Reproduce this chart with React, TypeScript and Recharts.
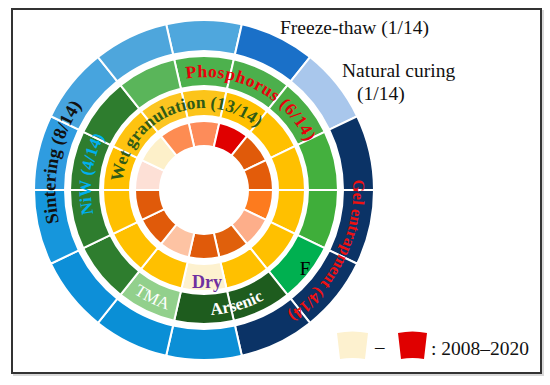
import { PieChart, Pie, Cell } from 'recharts'

// 14 studies, one slice each, shared by all four rings
const studies = ['S1', 'S2', 'S3', 'S4', 'S5', 'S6', 'S7', 'S8', 'S9', 'S10', 'S11', 'S12', 'S13', 'S14']
const share = [1, 1, 1, 1, 1, 1, 1, 1, 1, 1, 1, 1, 1, 1]

// outer ring: curing method
const curing = [
  'Sintering', 'Freeze-thaw', 'Natural curing', 'Gel entrapment', 'Gel entrapment', 'Gel entrapment', 'Gel entrapment',
  'Sintering', 'Sintering', 'Sintering', 'Sintering', 'Sintering', 'Sintering', 'Sintering',
]
const curingColors = [
  '#4fa7dd', '#1a70c8', '#a9c7ec', '#0b3366', '#0b3366', '#0b3366', '#0b3366',
  '#0c8fd6', '#0a8fd6', '#0d8fd8', '#1696dc', '#2f9ce0', '#47a4de', '#4ea6dc',
]

// second ring: target pollutant
const pollutant = [
  'Phosphorus', 'Phosphorus', 'Phosphorus', 'Phosphorus', 'Phosphorus', 'F', 'Arsenic',
  'Arsenic', 'TMA', 'NiW', 'NiW', 'NiW', 'NiW', 'Phosphorus',
]
const pollutantColors = [
  '#4db14d', '#4caf4c', '#4aae46', '#44b03e', '#3fae3a', '#00b050', '#1e5c1e',
  '#1e5c1e', '#92d08c', '#2e7d2e', '#2e7d2e', '#2e7d2e', '#2e7d2e', '#5ab55a',
]

// third ring: granulation method
const granulation = [
  'Wet', 'Wet', 'Wet', 'Wet', 'Wet', 'Wet', 'Wet', 'Dry', 'Wet', 'Wet', 'Wet', 'Wet', 'Wet', 'Wet',
]
const granulationColors = [
  '#fcc419', '#ffc000', '#ffc000', '#ffc000', '#ffc000', '#ffc000', '#ffc000',
  '#fdf1cf', '#ffc000', '#ffc000', '#ffc000', '#ffc000', '#fec310', '#fcc521',
]

// inner ring: publication year (2008-2020 colour scale)
const yearColors = [
  '#fd8c5a', '#e00000', '#e05a0a', '#e35c0a', '#fd7b1e', '#fdae8a', '#e0600c',
  '#e05a0a', '#fdc3a3', '#e05a0a', '#e05a0a', '#fde0d6', '#fdf0c9', '#fd8c52',
]

const W = 550
const H = 385
const CX = 204
const CY = 190
const START = 90 + 180 / 14

const serif = '"Liberation Serif", "Times New Roman", serif'

const rings = [
  { key: 'year', inner: 44, outer: 69, colors: yearColors, labels: studies },
  { key: 'gran', inner: 74, outer: 101, colors: granulationColors, labels: granulation },
  { key: 'poll', inner: 104, outer: 134, colors: pollutantColors, labels: pollutant },
  { key: 'cure', inner: 139, outer: 170, colors: curingColors, labels: curing },
]

function pt(deg: number, r: number) {
  const a = (deg * Math.PI) / 180
  return [CX + r * Math.sin(a), CY - r * Math.cos(a)]
}

// arc around the centre, angle measured clockwise from 12 o'clock
function arc(r: number, center: number, span: number, ccw: boolean) {
  const a1 = center - span / 2
  const a2 = center + span / 2
  const large = span > 180 ? 1 : 0
  if (!ccw) {
    const [x1, y1] = pt(a1, r)
    const [x2, y2] = pt(a2, r)
    return `M${x1},${y1} A${r},${r} 0 ${large} 1 ${x2},${y2}`
  }
  const [x1, y1] = pt(a2, r)
  const [x2, y2] = pt(a1, r)
  return `M${x1},${y1} A${r},${r} 0 ${large} 0 ${x2},${y2}`
}

interface CurvedProps {
  id: string
  text: string
  r: number
  center: number
  size: number
  color: string
  ccw?: boolean
  bold?: boolean
  spacing?: number
}

function Curved({ id, text, r, center, size, color, ccw = false, bold = true, spacing = 0 }: CurvedProps) {
  const base = ccw ? r + size * 0.35 : r - size * 0.35
  return (
    <g>
      <path id={id} d={arc(base, center, 160, ccw)} fill="none" />
      <text fontFamily={serif} fontSize={size} fontWeight={bold ? 'bold' : 'normal'} fill={color} letterSpacing={spacing}>
        <textPath href={`#${id}`} startOffset="50%" textAnchor="middle">
          {text}
        </textPath>
      </text>
    </g>
  )
}

function legendSector(x: number, y: number, w: number, h: number) {
  // small curved swatch like a ring cell
  return `M${x},${y} Q${x + w / 2},${y - 3} ${x + w},${y} L${x + w - 3},${y + h} Q${x + w / 2},${y + h - 2} ${x + 3},${y + h} Z`
}

function Labels() {
  return (
    <svg width={W} height={H} style={{ position: 'absolute', left: 0, top: 0 }}>
      <Curved id="lbl-sint" text="Sintering (8/14)" r={155} center={281} size={18.5} color="#111" />
      <Curved id="lbl-niw" text="NiW (4/14)" r={119} center={278} size={17} color="#00b0f0" />
      <Curved id="lbl-wet" text="Wet granulation (13/14)" r={88} center={338} size={17.5} color="#2f5a16" />
      <Curved id="lbl-phos" text="Phosphorus (6/14)" r={119} center={28} size={17.5} color="#e8000b" spacing={0.6} />
      <Curved id="lbl-gel" text="Gel entrapment (4/14)" r={155} center={116} size={16.5} color="#ee1111" />
      <Curved id="lbl-ars" text="Arsenic" r={119} center={164} size={17} color="#ffffff" ccw />
      <Curved id="lbl-tma" text="TMA" r={119} center={205.7} size={17} color="#ffffff" ccw bold={false} />
      <text x={305} y={275} fontFamily={serif} fontSize={19} textAnchor="middle" fill="#000">F</text>
      <text x={207} y={288} fontFamily={serif} fontSize={18} fontWeight="bold" textAnchor="middle" fill="#7030a0">Dry</text>
      <text x={280} y={34} fontFamily={serif} fontSize={19.5} fill="#111">Freeze-thaw (1/14)</text>
      <text x={342} y={77} fontFamily={serif} fontSize={19.5} fill="#111">Natural curing</text>
      <text x={357} y={100} fontFamily={serif} fontSize={19.5} fill="#111">(1/14)</text>
      <path d={legendSector(337, 333, 31, 26)} fill="#fdf1cf" />
      <text x={375} y={353} fontFamily={serif} fontSize={19} fill="#111">–</text>
      <path d={legendSector(398, 333, 29, 26)} fill="#e00000" />
      <text x={431} y={355} fontFamily={serif} fontSize={19.5} fill="#111">: 2008–2020</text>
    </svg>
  )
}

export default function App() {
  return (
    <div style={{ position: 'absolute', left: 0, top: 0, width: W, height: H, background: '#fff' }}>
      <div
        style={{
          position: 'absolute',
          left: 11,
          top: 8,
          width: 531,
          height: 366,
          boxSizing: 'border-box',
          border: '2px solid #333',
          boxShadow: '2px 2px 0 #d8d8d8',
        }}
      />
      <div style={{ position: 'absolute', left: 0, top: 0 }}>
        <PieChart width={W} height={H} margin={{ top: 0, right: 0, bottom: 0, left: 0 }}>
          {rings.map((ring) => (
            <Pie
              key={ring.key}
              data={share.map((v, i) => ({ name: ring.labels[i], value: v }))}
              dataKey="value"
              cx={CX}
              cy={CY}
              innerRadius={ring.inner}
              outerRadius={ring.outer}
              startAngle={START}
              endAngle={START - 360}
              stroke="#ffffff"
              strokeWidth={2}
              isAnimationActive={false}
            >
              {ring.colors.map((c, i) => (
                <Cell key={i} fill={c} />
              ))}
            </Pie>
          ))}
        </PieChart>
      </div>
      <Labels />
    </div>
  )
}
